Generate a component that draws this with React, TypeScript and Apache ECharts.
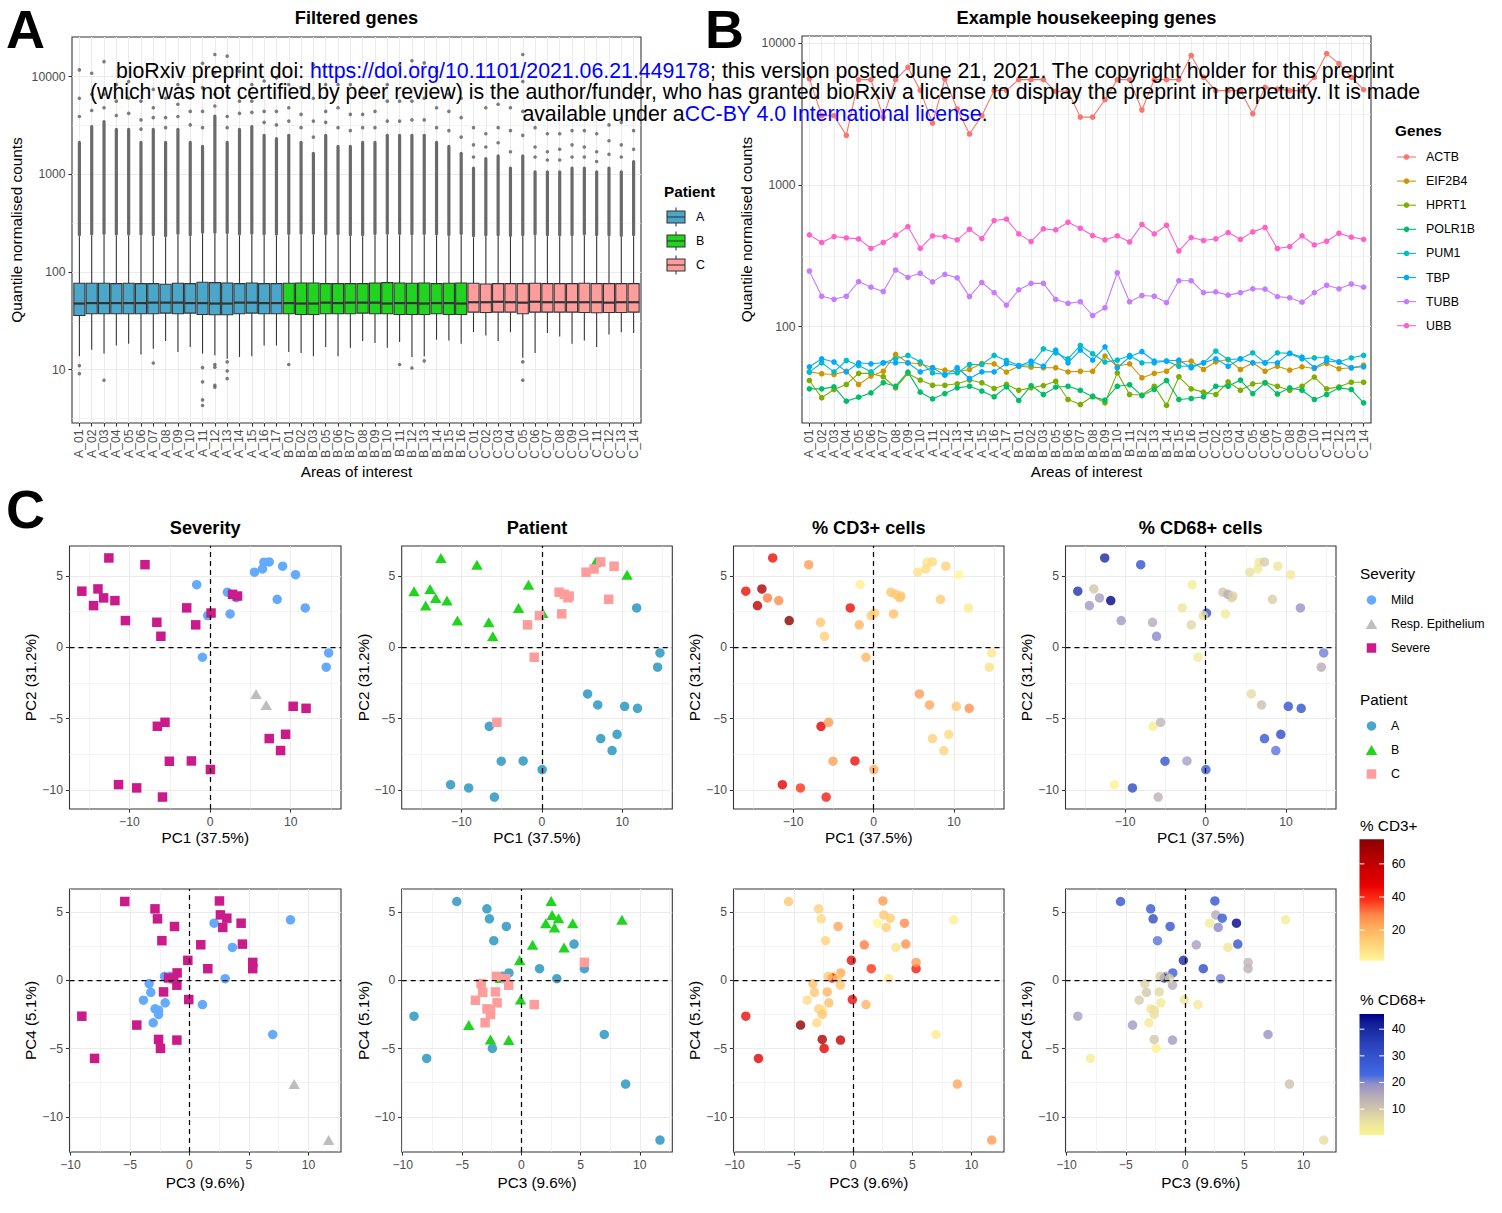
import React, { useEffect, useRef } from 'react';
import * as echarts from 'echarts';

const FONT = "'Liberation Sans', Arial, Helvetica, sans-serif";

// ================= Panels A & B : areas of interest =================
const sampleIds = ['A_01','A_02','A_03','A_04','A_05','A_06','A_07','A_08','A_09','A_10','A_11','A_12','A_13','A_14','A_15','A_16','A_17',
  'B_01','B_02','B_03','B_05','B_06','B_07','B_08','B_09','B_10','B_11','B_12','B_13','B_14','B_15','B_16',
  'C_01','C_02','C_03','C_04','C_05','C_06','C_07','C_08','C_09','C_10','C_11','C_12','C_13','C_14'];

// Panel A box statistics (quantile normalised counts)
const boxWhiskerLow = [13.7,16,14.6,17.7,18.4,14.3,16.4,19.6,15.2,17.1,14.6,14,12.9,13.5,13.7,17.7,17.7,
  15.2,14.8,13.7,17.1,13.7,16.8,19.6,18.7,16.8,19.2,13.5,13.7,20.2,19.9,18.4,
  24.2,22.4,19.6,24.2,13.2,14.8,23.7,21.9,18.4,19.9,17.1,22.9,24.2,23.7];
const boxQ1 = [35.8,37.3,37.3,37.3,37.3,37.3,37.3,37.9,37.3,37.9,36.7,36.4,36.4,37.3,37.9,37.3,37.3,
  37.3,36.7,36.7,37.3,37.3,37.3,37.9,37.3,37.3,36.7,36.7,36.7,37.3,36.7,36.7,
  38.8,38.5,38.8,38.8,37.3,38.8,38.8,38.8,38.8,38.5,38.2,38.5,38.5,38.8];
const boxMedian = [47.5,48,48,48,48,48,48.5,48.5,48.5,48,48,47.5,47.5,48.5,48.5,48,48,
  48,47.5,47.5,48.5,48,48.5,48.5,48.5,47.5,48,48,47.5,48,48,47.5,
  49,49,49.5,49,48.5,49.5,49,49,49,49,49,48.5,49,49];
const boxQ3 = [76.6,76.6,76.6,76,76.6,76,76,74.8,76.6,76,78.4,77.8,77.2,76,77.2,76,76,
  76.6,77.2,77.2,76,76,76,76,77.2,77.8,77.2,76.6,77.2,76,76.6,77.2,
  76.6,75.4,76,76,76,76.6,76,76,76,76.6,76,76,76,76];
const boxWhiskerHigh = [232,235,238,235,235,235,232,226,240,232,245,245,242,235,240,235,235,
  238,240,240,235,235,232,232,238,240,238,235,238,235,232,238,
  226,230,232,228,232,235,232,230,232,235,232,232,228,232];
// upper end of the dense (overplotted) run of outliers above each box
const denseOutlierTop = [2200,3200,3600,3000,3000,2200,3000,2200,3000,2200,2000,4100,2200,3000,3200,2600,2400,
  2600,2200,1700,2600,2000,2000,2200,2200,2600,2600,2600,2600,2200,2000,1700,
  1200,1500,1600,1200,1600,1100,1100,1100,1200,1200,1100,1200,1100,1400];
// individually visible outliers
const sparseOutliers = [
  [11700,6000,3900,11,9.1],[10800,6600,4500],[14200,6600,4800,7.8],[8300,5600,4000],[8900,6000,4200],
  [5600,3600,2900],[7400,4800,3800,11.7],[6000,3800,3000],[8300,5200,3900],[6000,4400,3200],
  [13700,7700,4400,3000,10.5,7.5,4.9,4.3],[16800,10900,6600,5000,11.3,10.6,6.9,6.6],[16200,7100,3900,3000,12,9.7,8.1],
  [11300,5600,4200],[8300,5600,4300],[9000,4400,3400],[9700,4400,3200],
  [8300,4800,3500,11.3],[7700,4100,3000],[13200,6000,3500,2400],[8300,4400,3400],[8300,4800,3000],
  [8300,4100,2800],[7700,4100,3000],[6600,4400,3000],[8300,5600,3500],[13200,5600,3500,11.3],
  [14500,5600,3600,10.4],[13800,6000,3600,12.3],[11300,4800,3000],[6600,4400,2800],[6000,3800,2400],
  [3000,2000,1500],[4800,2600,1900],[5200,3000,2100],[4800,2800,1700],[16800,8900,4400,2500,12,7.8],
  [3000,1900,1500],[2600,1700,1400],[2600,1800,1400],[2800,2000,1500],[2800,1900,1500],
  [2600,1700,1350],[3200,2200,1600],[3400,2000,1500],[4400,2800,1800]];

// Panel B: housekeeping genes
const geneNames = ['ACTB','EIF2B4','HPRT1','POLR1B','PUM1','TBP','TUBB','UBB'];
const geneColors = ['#F8766D','#CD9600','#7CAE00','#00BE67','#00BFC4','#00A9FF','#C77CFF','#FF61CC'];
const ACTB = [5600,3070,3070,2230,5510,5510,3000,5510,6730,4630,2720,5570,3420,2280,3070,4630,4630,
  5510,5510,5510,4560,4560,3000,3000,3980,5510,5510,3370,5510,5510,5510,8150,
  5730,4610,4610,4610,3170,4860,4730,4610,4610,5730,8410,7140,5730,4690];
const EIF2B4 = [48.1,46.6,46.1,48.6,39.2,44.9,48.6,63.8,55.7,54.8,51.4,49.4,48.1,50.0,55.1,54.8,47.9,
  52.7,51.9,51.4,51.4,48.1,48.6,48.6,62.1,52.7,54.8,43.7,46.9,48.6,56.4,57.3,
  50.0,56.6,58.7,50.0,55.7,48.6,52.7,49.4,52.2,50.8,55.1,50.6,51.4,53.6];
const HPRT1 = [41.8,31.6,36.1,39.2,46.9,46.9,44.4,37.1,46.9,42.1,38.7,38.7,39.6,42.1,40.3,36.7,39.2,
  35.7,37.1,38.5,41.3,30.7,28.3,32.4,29.1,47.3,33.3,33.0,38.1,27.9,44.4,36.5,
  34.6,33.3,40.9,35.7,39.6,40.3,38.1,35.7,38.1,44.2,36.5,37.7,40.6,40.6];
const POLR1B = [36.5,36.5,37.7,29.9,31.9,34.2,40.3,38.1,47.9,34.6,31.0,33.8,37.1,38.1,35.2,32.1,37.7,
  30.2,38.5,33.3,37.5,38.1,35.6,32.1,30.4,38.1,39.0,32.7,36.1,41.8,30.7,31.2,
  32.1,38.1,38.1,42.1,33.8,40.3,33.6,37.1,35.7,30.7,33.3,37.1,36.1,29.1];
const PUM1 = [47.9,55.7,48.1,57.8,53.3,48.1,55.7,59.4,62.8,56.6,47.3,46.1,47.3,54.2,54.2,62.8,57.8,
  53.3,54.2,69.9,65.5,59.4,73.8,64.5,56.4,58.2,62.8,55.7,55.7,57.3,52.7,52.7,
  55.7,67.3,58.7,59.4,65.5,55.7,65.5,64.9,59.4,60.4,60.4,56.4,60.4,62.8];
const TBP = [52.2,59.4,56.4,48.1,55.7,54.8,55.7,55.7,55.7,48.1,51.4,45.6,51.4,43.2,48.1,48.1,55.1,
  52.7,57.3,52.7,68.4,55.7,68.4,58.2,72.2,51.4,61.4,66.7,57.3,57.3,58.2,51.4,
  55.7,59.4,52.7,59.4,55.7,55.7,55.7,64.9,61.1,51.4,57.3,56.4,51.4,52.2];
const TUBB = [247,164,156,164,208,190,177,251,223,238,207,234,221,163,205,174,142,
  182,202,202,156,146,150,120,136,240,150,166,164,148,211,211,
  174,176,167,174,185,184,163,160,149,174,196,185,200,190];
const UBB = [444,392,432,423,416,357,392,442,508,357,437,432,409,486,418,560,573,
  451,398,489,481,545,494,439,409,437,396,525,451,519,342,425,
  405,416,461,413,466,500,356,367,437,377,400,456,428,413];
const geneValues = [ACTB, EIF2B4, HPRT1, POLR1B, PUM1, TBP, TUBB, UBB];

// ================= Panel C : PCA =================
const pcPatient = ['A','A','A','A','A','A','A','A','A','A','A','A','A','A','A','A','A',
  'B','B','B','B','B','B','B','B','B','B','B','B','B','B','B',
  'C','C','C','C','C','C','C','C','C','C','C','C','C','C'];
const pcSeverity = ['Severe','Severe','Severe','Severe','Severe','Severe','Severe','Severe','Severe','Severe','Severe','Severe',
  'Mild','Mild','Mild','Resp. Epithelium','Resp. Epithelium',
  'Severe','Severe','Severe','Severe','Severe','Severe','Severe','Severe','Severe','Severe','Severe','Severe','Mild','Mild','Mild',
  'Mild','Mild','Mild','Mild','Mild','Mild','Mild','Mild','Mild','Mild','Severe','Severe','Severe','Severe'];
const pc1 = [10.3,7.33,9.36,8.74,11.9,-5.05,0.04,-9.1,-5.9,-2.32,-6.54,-11.35,11.8,14.7,14.4,5.7,6.96,
  -12.55,-15.9,-13.9,-13.2,-14.45,-11.8,-8.07,-10.5,-6.6,-6.1,-2.9,0.12,-1.66,6.67,10.6,
  7.33,8.99,5.5,6.5,2.15,3.24,2.48,-0.29,8.32,-0.95,-5.59,-1.78,2.79,3.4];
const pc2 = [-4.14,-6.4,-6.1,-7.24,-4.28,-7.99,-8.57,-9.86,-10.5,-7.97,-5.54,-9.63,2.76,-0.4,-1.4,-3.27,-4.04,
  6.26,3.93,4.09,3.46,2.92,3.27,5.79,1.87,1.75,0.77,2.76,2.4,4.39,5.96,5.09,
  5.98,5.68,5.26,5.49,3.86,3.47,2.34,2.22,3.36,-0.7,-5.26,1.57,3.71,3.59];
const pc3 = [-5.44,-2.9,-2.69,-2.32,4.45,-1.26,-1.04,1.54,5.32,-9.05,-7.98,-2.44,7.0,3.0,-1.6,11.7,8.8,
  -0.14,-1.76,-2.6,0.95,-1.06,4.34,2.52,-4.43,2.6,2.8,-0.06,3.14,8.49,3.61,2.07,
  -3.87,-2.89,-2.6,-3.05,-3.25,-3.39,-2.04,-2.6,-2.1,1.09,5.32,-2.18,-1.06,-1.32];
const pc4 = [5.77,5.23,4.5,2.9,2.65,3.94,0.54,0.85,0.85,-2.63,-5.72,-4.99,-3.97,0.12,0.3,-11.7,-7.6,
  1.46,0.17,-4.33,2.6,-4.38,4.18,5.81,-3.28,4.79,3.87,-1.41,4.55,4.43,2.41,4.18,
  -1.46,-2.09,-2.19,-3.11,-0.88,-0.24,-1.65,-2.5,0.29,-1.78,1.31,-0.85,-0.36,0.12];
const pctCD3 = [15,12,10,11,27,24,22,38,42,45,50,48,5,6,8,25,23,
  45,45,65,30,60,28,25,74.8,15,13,45,14,4,7,1.6,
  9,12,8,10,15,16,17,15,14,20,25,20,15,15];
const pctCD68 = [30,28,32,22,30,30,27,32,14,17,2,0.3,19,21,15,6,11,
  40,38,10,17,18,45.7,30,18,15,20,4,28,2,4,3,
  9,4,5,3,10,8,3,5,9,3,13,7,15,8];

const cd3Ticks = [20, 40, 60];
const cd68Ticks = [10, 20, 30, 40];
const pcAxisTitles = ['PC1 (37.5%)', 'PC2 (31.2%)', 'PC3 (9.6%)', 'PC4 (5.1%)'];

// ---------- styles ----------
const TICK_FS = 12.2, AXTITLE_FS = 15.3, TITLE_FS = 18.2, LEG_FS = 12.4;
const patientColor: any = { A: '#4BA7C9', B: '#20D420', C: '#FF9C9C' };
const sevStyle: any[] = [
  { name: 'Mild', symbol: 'circle', size: 9.5, color: '#64AAFF' },
  { name: 'Resp. Epithelium', symbol: 'triangle', size: [11.5, 10], color: '#BEBEBE' },
  { name: 'Severe', symbol: 'rect', size: 9.5, color: '#CB1B8A' },
];
const patStyle: any[] = [
  { name: 'A', symbol: 'circle', size: 9.5, color: patientColor.A },
  { name: 'B', symbol: 'triangle', size: [11.5, 10], color: patientColor.B },
  { name: 'C', symbol: 'rect', size: 9.5, color: patientColor.C },
];
const CD3_COLORS = ['#FFF79A','#FFD67D','#FFB563','#FF884A','#FF3018','#E80000','#CC0000','#AD0000','#8B0000'];
const CD68_COLORS = ['#FAF38E','#EFE69A','#DDD3A7','#C8BDB0','#B2A9BA','#9890C8','#4169E1','#3A5CD6','#3250CA','#2A42BB','#1F32AA','#13209A','#00008B'];

const lg = (v: number) => Math.log10(v);
const fmtNum = (v: number) => (v < 0 ? '\u2212' + Math.abs(v) : String(v));
const padExtent = (arr: number[]) => {
  const mn = Math.min(...arr), mx = Math.max(...arr), p = (mx - mn) * 0.05;
  return [mn - p, mx + p];
};

function mainAxis(gridIndex: number, ext: number[], ticks: number[], o: any) {
  return {
    type: 'value', gridIndex, min: ext[0], max: ext[1],
    axisLine: { show: false, onZero: false },
    axisTick: { show: true, length: 3.6, lineStyle: { color: '#333333', width: 1.07 }, customValues: ticks },
    axisLabel: { show: true, customValues: ticks, margin: 6.5, color: '#4D4D4D', fontSize: TICK_FS, fontFamily: FONT,
      formatter: o.formatter || fmtNum, rotate: o.rotate || 0 },
    splitLine: { show: true, lineStyle: { color: '#EBEBEB', width: 1.07 } },
    name: o.name, nameLocation: 'middle', nameGap: o.nameGap,
    nameTextStyle: { fontSize: AXTITLE_FS, color: '#000', fontFamily: FONT },
  };
}
function minorAxis(gridIndex: number, ext: number[], ticks: number[]) {
  return {
    type: 'value', gridIndex, min: ext[0], max: ext[1],
    axisLine: { show: false, onZero: false },
    axisTick: { show: false, customValues: ticks },
    axisLabel: { show: false },
    splitLine: { show: true, lineStyle: { color: '#EBEBEB', width: 0.55 } },
  };
}

function txt(x: number, y: number, text: string, size: number, o: any = {}) {
  return {
    type: 'text', x, y, z: o.z || 10,
    style: { text, fontSize: size, fontFamily: FONT, fontWeight: o.bold ? 'bold' : 'normal', fill: o.fill || '#000',
      align: o.align || 'left', verticalAlign: 'middle', textAlign: o.align || 'left', textVerticalAlign: 'middle', rich: o.rich },
  };
}

function buildOption() {
  const grids: any[] = [];
  const xAxes: any[] = [];
  const yAxes: any[] = [];
  const series: any[] = [];
  const G: any[] = [];
  const gridStyle = { show: true, borderColor: '#333333', borderWidth: 1.07, backgroundColor: '#fff' };
  const idx = sampleIds.map((_, i) => i);
  const xExtAB = [-0.6, sampleIds.length - 1 + 0.6];
  const sampleFmt = (v: number) => sampleIds[Math.round(v)] || '';
  const powFmt = (v: number) => String(Math.round(Math.pow(10, v)));

  // ---------- Panel A ----------
  grids.push({ left: 72, top: 37, width: 569, height: 386, ...gridStyle });
  const allA: number[] = [...boxWhiskerLow, ...boxWhiskerHigh, ...denseOutlierTop, ...sparseOutliers.flat()].map(lg);
  const yExtA = padExtent(allA);
  xAxes.push(mainAxis(0, xExtAB, idx, { formatter: sampleFmt, rotate: 90, name: 'Areas of interest', nameGap: 41.4 }));
  yAxes.push(mainAxis(0, yExtA, [1, 2, 3, 4], { formatter: powFmt, name: 'Quantile normalised counts', nameGap: 48.3 }));
  yAxes.push(minorAxis(0, yExtA, [0.5, 1.5, 2.5, 3.5]));

  series.push({
    type: 'custom', xAxisIndex: 0, yAxisIndex: 0, clip: false,
    data: idx.map(i => [i, lg(boxWhiskerHigh[i]), lg(denseOutlierTop[i])]),
    encode: { x: 0, y: [1, 2] },
    renderItem: (p: any, api: any) => {
      const i = api.value(0);
      const a = api.coord([i, api.value(1)]);
      const b = api.coord([i, api.value(2)]);
      return { type: 'rect', shape: { x: a[0] - 1.6, y: b[1], width: 3.2, height: a[1] - b[1], r: 1.6 }, style: { fill: '#6A6A6A' } };
    },
  });
  const outPts: number[][] = [];
  sparseOutliers.forEach((arr, i) => arr.forEach(v => outPts.push([i, lg(v)])));
  series.push({ type: 'scatter', xAxisIndex: 0, yAxisIndex: 0, data: outPts, symbol: 'circle', symbolSize: 3.6,
    itemStyle: { color: '#5E5E5E' }, silent: true });
  series.push({
    type: 'custom', xAxisIndex: 0, yAxisIndex: 0, clip: false,
    data: idx.map(i => [i, lg(boxWhiskerLow[i]), lg(boxQ1[i]), lg(boxMedian[i]), lg(boxQ3[i]), lg(boxWhiskerHigh[i])]),
    encode: { x: 0, y: [1, 2, 3, 4, 5] },
    renderItem: (p: any, api: any) => {
      const i = api.value(0);
      const lo = api.coord([i, api.value(1)]);
      const q1 = api.coord([i, api.value(2)]);
      const md = api.coord([i, api.value(3)]);
      const q3 = api.coord([i, api.value(4)]);
      const hi = api.coord([i, api.value(5)]);
      const bw = api.size([0.9, 0])[0];
      const x = lo[0];
      const fill = patientColor[sampleIds[i].charAt(0)];
      const st = { stroke: '#333333', lineWidth: 1.07 };
      return { type: 'group', children: [
        { type: 'line', shape: { x1: x, y1: lo[1], x2: x, y2: q1[1] }, style: st },
        { type: 'line', shape: { x1: x, y1: q3[1], x2: x, y2: hi[1] }, style: st },
        { type: 'rect', shape: { x: x - bw / 2, y: q3[1], width: bw, height: q1[1] - q3[1] }, style: { fill, ...st } },
        { type: 'line', shape: { x1: x - bw / 2, y1: md[1], x2: x + bw / 2, y2: md[1] }, style: { stroke: '#333333', lineWidth: 2.2 } },
      ] };
    },
  });

  // ---------- Panel B ----------
  grids.push({ left: 802, top: 36, width: 569, height: 387, ...gridStyle });
  const allB = geneValues.flat().map(lg);
  const yExtB = padExtent(allB);
  xAxes.push(mainAxis(1, xExtAB, idx, { formatter: sampleFmt, rotate: 90, name: 'Areas of interest', nameGap: 41.4 }));
  yAxes.push(mainAxis(1, yExtB, [2, 3, 4], { formatter: powFmt, name: 'Quantile normalised counts', nameGap: 48.3 }));
  yAxes.push(minorAxis(1, yExtB, [1.5, 2.5, 3.5]));
  geneValues.forEach((vals, g) => {
    series.push({ type: 'line', name: geneNames[g], xAxisIndex: 1, yAxisIndex: 2,
      data: vals.map((v, i) => [i, lg(v)]), symbol: 'circle', symbolSize: 5.6, showSymbol: true,
      lineStyle: { color: geneColors[g], width: 1.1 }, itemStyle: { color: geneColors[g] }, silent: true });
  });

  // ---------- Panel C ----------
  const colLefts = [69.5, 401.7, 733.5, 1065.5];
  const colWidths = [271.5, 270.6, 270.5, 270.5];
  const rowTops = [546, 889];
  const rows = [
    { xs: pc1, ys: pc2, xn: pcAxisTitles[0], yn: pcAxisTitles[1], xMaj: [-10, 0, 10], xMin: [-15, -5, 5, 15], yMaj: [-10, -5, 0, 5], yMin: [-7.5, -2.5, 2.5] },
    { xs: pc3, ys: pc4, xn: pcAxisTitles[2], yn: pcAxisTitles[3], xMaj: [-10, -5, 0, 5, 10], xMin: [-7.5, -2.5, 2.5, 7.5, 12.5], yMaj: [-10, -5, 0, 5], yMin: [-7.5, -2.5, 2.5] },
  ];
  const cd3Series: number[] = [], cd68Series: number[] = [];
  const dashed = { silent: true, symbol: ['none', 'none'], label: { show: false }, animation: false,
    lineStyle: { color: '#000', type: [5, 4], width: 1.25 }, data: [{ xAxis: 0 }, { yAxis: 0 }] };
  rows.forEach((row, r) => {
    const xExt = padExtent(row.xs), yExt = padExtent(row.ys);
    for (let c = 0; c < 4; c++) {
      const g = grids.length;
      grids.push({ left: colLefts[c], top: rowTops[r], width: colWidths[c], height: 263, ...gridStyle });
      const xi = xAxes.length;
      xAxes.push(mainAxis(g, xExt, row.xMaj, { name: row.xn, nameGap: r === 0 ? 21.3 : 23.3 }));
      xAxes.push(minorAxis(g, xExt, row.xMin));
      const yi = yAxes.length;
      yAxes.push(mainAxis(g, yExt, row.yMaj, { name: row.yn, nameGap: 28.8 }));
      yAxes.push(minorAxis(g, yExt, row.yMin));
      const pts = row.xs.map((x, i) => i);
      if (c === 0 || c === 1) {
        const styles = c === 0 ? sevStyle : patStyle;
        const key = c === 0 ? pcSeverity : pcPatient;
        styles.forEach((s, k) => {
          series.push({ type: 'scatter', name: s.name, xAxisIndex: xi, yAxisIndex: yi,
            data: pts.filter(i => key[i] === s.name).map(i => [row.xs[i], row.ys[i]]),
            symbol: s.symbol, symbolSize: s.size, itemStyle: { color: s.color, opacity: 1 }, silent: true,
            markLine: k === 0 ? dashed : undefined });
        });
      } else {
        const vals = c === 2 ? pctCD3 : pctCD68;
        (c === 2 ? cd3Series : cd68Series).push(series.length);
        series.push({ type: 'scatter', xAxisIndex: xi, yAxisIndex: yi,
          data: pts.map(i => [row.xs[i], row.ys[i], vals[i]]),
          symbol: 'circle', symbolSize: 9.5, silent: true, markLine: dashed });
      }
    }
  });

  const cd3Min = Math.min(...pctCD3), cd3Max = Math.max(...pctCD3);
  const cd68Min = Math.min(...pctCD68), cd68Max = Math.max(...pctCD68);
  const visualMap = [
    { type: 'continuous', show: false, seriesIndex: cd3Series, dimension: 2, min: cd3Min, max: cd3Max, inRange: { color: CD3_COLORS } },
    { type: 'continuous', show: false, seriesIndex: cd68Series, dimension: 2, min: cd68Min, max: cd68Max, inRange: { color: CD68_COLORS } },
  ];

  // ---------- graphics: panel letters, titles, legends ----------
  G.push(txt(6, 29, 'A', 54, { bold: true }));
  G.push(txt(705, 29, 'B', 54, { bold: true }));
  G.push(txt(6, 509, 'C', 54, { bold: true }));
  G.push(txt(356.5, 18, 'Filtered genes', TITLE_FS, { bold: true, align: 'center' }));
  G.push(txt(1086.5, 18, 'Example housekeeping genes', TITLE_FS, { bold: true, align: 'center' }));
  const titlesC = ['Severity', 'Patient', '% CD3+ cells', '% CD68+ cells'];
  titlesC.forEach((t, c) => G.push(txt(colLefts[c] + colWidths[c] / 2, 528, t, TITLE_FS, { bold: true, align: 'center' })));

  // Panel A legend
  G.push(txt(664, 191, 'Patient', AXTITLE_FS, { bold: true }));
  ['A', 'B', 'C'].forEach((p, k) => {
    const cy = 217 + k * 24, cx = 676;
    const st = { stroke: '#333333', lineWidth: 1.07 };
    G.push({ type: 'line', shape: { x1: cx, y1: cy - 9.6, x2: cx, y2: cy + 9.6 }, style: st });
    G.push({ type: 'rect', shape: { x: cx - 9, y: cy - 6, width: 18, height: 12 }, style: { fill: patientColor[p], ...st } });
    G.push({ type: 'line', shape: { x1: cx - 9, y1: cy, x2: cx + 9, y2: cy }, style: st });
    G.push(txt(696, cy, p, LEG_FS));
  });

  // Panel B legend
  G.push(txt(1395, 130, 'Genes', AXTITLE_FS, { bold: true }));
  geneNames.forEach((n, k) => {
    const cy = 157 + k * 24.1;
    G.push({ type: 'line', shape: { x1: 1397, y1: cy, x2: 1416, y2: cy }, style: { stroke: geneColors[k], lineWidth: 1.1 } });
    G.push({ type: 'circle', shape: { cx: 1406.5, cy, r: 2.8 }, style: { fill: geneColors[k] } });
    G.push(txt(1426, cy, n, LEG_FS));
  });

  // Panel C legends
  const symbolEl = (s: any, cx: number, cy: number) => {
    if (s.symbol === 'circle') return { type: 'circle', shape: { cx, cy, r: 4.75 }, style: { fill: s.color } };
    if (s.symbol === 'rect') return { type: 'rect', shape: { x: cx - 4.75, y: cy - 4.75, width: 9.5, height: 9.5 }, style: { fill: s.color } };
    return { type: 'polygon', shape: { points: [[cx, cy - 5], [cx - 5.75, cy + 5], [cx + 5.75, cy + 5]] }, style: { fill: s.color } };
  };
  G.push(txt(1360, 573, 'Severity', AXTITLE_FS));
  sevStyle.forEach((s, k) => { G.push(symbolEl(s, 1371.5, 600 + k * 24)); G.push(txt(1391, 600 + k * 24, s.name, LEG_FS)); });
  G.push(txt(1360, 699, 'Patient', AXTITLE_FS));
  patStyle.forEach((s, k) => { G.push(symbolEl(s, 1371.5, 726 + k * 24)); G.push(txt(1391, 726 + k * 24, s.name, LEG_FS)); });

  const colorbar = (title: string, titleY: number, top: number, bottom: number, mn: number, mx: number, colors: string[], ticks: number[]) => {
    const left = 1359.5, w = 24.5, h = bottom - top;
    G.push(txt(1360, titleY, title, AXTITLE_FS));
    G.push({ type: 'rect', shape: { x: left, y: top, width: w, height: h },
      style: { fill: new echarts.graphic.LinearGradient(0, 1, 0, 0, colors.map((c, k) => ({ offset: k / (colors.length - 1), color: c }))) } });
    ticks.forEach(t => {
      const y = bottom - (t - mn) / (mx - mn) * h;
      G.push({ type: 'line', shape: { x1: left, y1: y, x2: left + 4.9, y2: y }, style: { stroke: '#fff', lineWidth: 1 } });
      G.push({ type: 'line', shape: { x1: left + w - 4.9, y1: y, x2: left + w, y2: y }, style: { stroke: '#fff', lineWidth: 1 } });
      G.push(txt(left + w + 7.7, y, String(t), LEG_FS));
    });
  };
  colorbar('% CD3+', 825, 839.3, 960.7, cd3Min, cd3Max, CD3_COLORS, cd3Ticks);
  colorbar('% CD68+', 999, 1014, 1135, cd68Min, cd68Max, CD68_COLORS, cd68Ticks);

  // bioRxiv watermark
  const rich = { l: { fill: '#0000FF', fontSize: 21.3, fontFamily: FONT } };
  G.push(txt(755, 71, 'bioRxiv preprint doi: {l|https://doi.org/10.1101/2021.06.21.449178}; this version posted June 21, 2021. The copyright holder for this preprint', 21.3, { align: 'center', rich, z: 100 }));
  G.push(txt(755, 92, '(which was not certified by peer review) is the author/funder, who has granted bioRxiv a license to display the preprint in perpetuity. It is made', 21.3, { align: 'center', rich, z: 100 }));
  G.push(txt(755, 113.5, 'available under a{l|CC-BY 4.0 International license}.', 21.3, { align: 'center', rich, z: 100 }));

  return {
    animation: false,
    backgroundColor: '#ffffff',
    textStyle: { fontFamily: FONT },
    grid: grids,
    xAxis: xAxes,
    yAxis: yAxes,
    visualMap,
    series,
    graphic: { elements: G },
  };
}

export default function App() {
  const ref = useRef<HTMLDivElement>(null);
  useEffect(() => {
    document.body.style.margin = '0';
    const chart = echarts.init(ref.current as HTMLDivElement, null, { renderer: 'svg' });
    chart.setOption(buildOption() as any);
    return () => chart.dispose();
  }, []);
  return <div ref={ref} style={{ width: 1502, height: 1213, background: '#fff' }} />;
}
